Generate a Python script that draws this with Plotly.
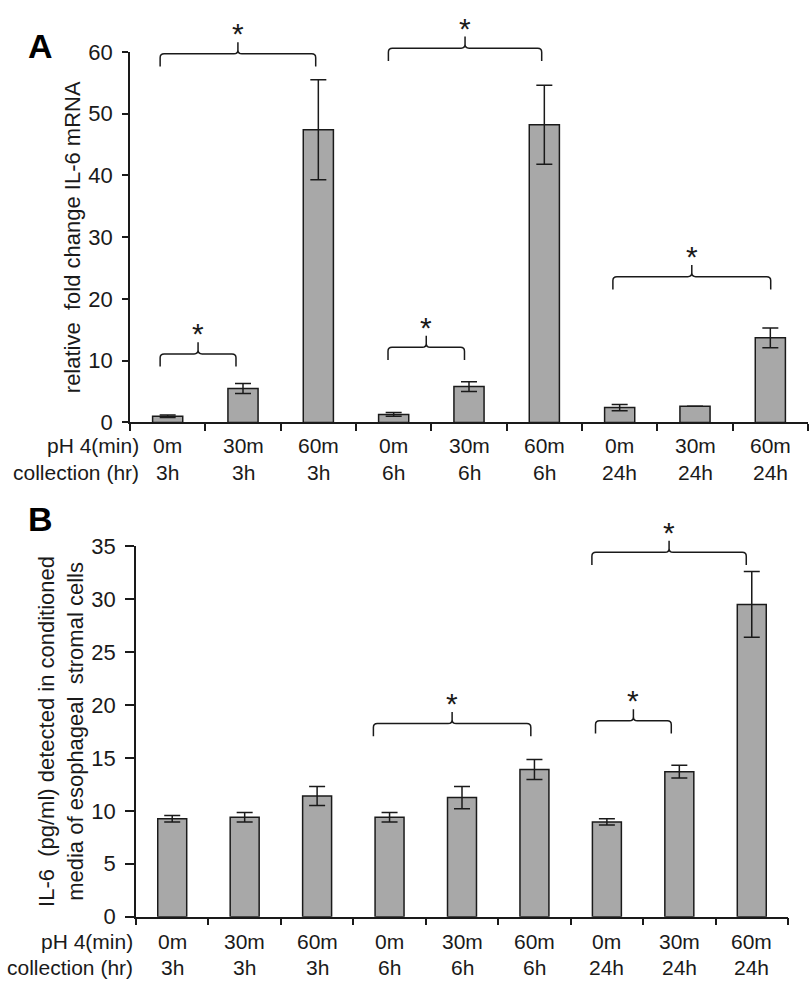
import plotly.graph_objects as go

# ---------------- data ----------------
ph_labels = ["0m", "30m", "60m", "0m", "30m", "60m", "0m", "30m", "60m"]
collection_labels = ["3h", "3h", "3h", "6h", "6h", "6h", "24h", "24h", "24h"]
row_header_1 = "pH 4(min)"
row_header_2 = "collection (hr)"

mrna_values = [1.0, 5.5, 47.4, 1.3, 5.8, 48.2, 2.4, 2.6, 13.7]
mrna_errors = [0.2, 0.8, 8.1, 0.3, 0.8, 6.4, 0.5, 0.0, 1.6]

protein_values = [9.25, 9.4, 11.4, 9.4, 11.25, 13.9, 8.95, 13.7, 29.5]
protein_errors = [0.3, 0.45, 0.9, 0.45, 1.05, 0.95, 0.3, 0.6, 3.1]

# significance brackets: (left index, right index, height in data units)
brackets_A = [(-0.10, 1.965, 59.7), (-0.10, 0.907, 11.1), (2.93, 4.965, 60.6),
              (2.925, 3.94, 12.16), (5.91, 8.005, 23.6)]
brackets_B = [(2.777, 4.95, 18.24), (5.843, 6.889, 18.5), (5.793, 7.924, 34.42)]

title_A = "relative  fold change IL-6 mRNA"
title_B = "IL-6  (pg/ml) detected in conditioned<br>media of esophageal  stromal cells"

# ---------------- layout geometry (px) ----------------
W, H = 812, 994
FONT = "Liberation Sans, Arial, sans-serif"
BAR_COLOR = "#a8a8a8"
INK = "#1a1a1a"
TXT = 21

panels = {
    "A": dict(x0=130, x1=808, ytop=41, ybot=421, ymax=60, dtick=10, ticklen=6,
              row1=445, row2=472, hdr_x=141),
    "B": dict(x0=136, x1=788, ytop=548, ybot=928, ymax=35, dtick=5, ticklen=9,
              row1=953, row2=980, hdr_x=135),
}
N = len(ph_labels)


def px_x(p, idx):
    g = panels[p]
    return g["x0"] + (idx + 0.5) * (g["x1"] - g["x0"]) / N


def px_y(p, val):
    g = panels[p]
    return g["ybot"] - val / g["ymax"] * (g["ybot"] - g["ytop"])


def to_paper(px, py):
    return px / W, 1 - py / H


fig = go.Figure()

x_idx = list(range(N))
for p, vals, errs, xa, ya in [("A", mrna_values, mrna_errors, "x", "y"),
                              ("B", protein_values, protein_errors, "x2", "y2")]:
    fig.add_trace(go.Bar(
        x=x_idx, y=vals, xaxis=xa, yaxis=ya, width=0.4,
        marker=dict(color=BAR_COLOR, line=dict(color=INK, width=1.5)),
        error_y=dict(type="data", array=errs, visible=True, color=INK,
                     thickness=1.5, width=8),
        showlegend=False, hoverinfo="skip",
    ))

shapes = []
annotations = []


def brace(p, left, right, val, leg=13, tip=12, r=4):
    xl, xr = px_x(p, left), px_x(p, right)
    xc = (xl + xr) / 2
    yl = px_y(p, val)

    def P(x, y):
        a, b = to_paper(x, y)
        return f"{a:.5f},{b:.5f}"

    path = (f"M {P(xl, yl + leg)} L {P(xl, yl + r)} Q {P(xl, yl)} {P(xl + r, yl)} "
            f"L {P(xc - r, yl)} Q {P(xc, yl)} {P(xc, yl - r)} L {P(xc, yl - tip)} "
            f"M {P(xc, yl - r)} Q {P(xc, yl)} {P(xc + r, yl)} "
            f"L {P(xr - r, yl)} Q {P(xr, yl)} {P(xr, yl + r)} L {P(xr, yl + leg)}")
    shapes.append(dict(type="path", path=path, xref="paper", yref="paper",
                       line=dict(color=INK, width=1.5)))
    ax_, ay_ = to_paper(xc, yl - tip - 2)
    annotations.append(dict(text="*", x=ax_, y=ay_, xref="paper", yref="paper",
                            xanchor="center", yanchor="bottom", showarrow=False,
                            font=dict(family=FONT, size=30, color=INK), yshift=-12))


for b in brackets_A:
    brace("A", *b)
for b in brackets_B:
    brace("B", *b)

# category labels + row headers
for p, xa in [("A", "x"), ("B", "x2")]:
    g = panels[p]
    for i in range(N):
        for text, row in [(ph_labels[i], g["row1"]), (collection_labels[i], g["row2"])]:
            annotations.append(dict(text=text, x=i, xref=xa, y=1 - row / H, yref="paper",
                                    xanchor="center", yanchor="middle", showarrow=False,
                                    font=dict(family=FONT, size=TXT, color=INK)))
    for text, row in [(row_header_1, g["row1"]), (row_header_2, g["row2"])]:
        annotations.append(dict(text=text, x=g["hdr_x"] / W, xref="paper", y=1 - row / H,
                                yref="paper", xanchor="right", yanchor="middle",
                                showarrow=False, font=dict(family=FONT, size=TXT, color=INK)))

# y-axis titles
annotations.append(dict(text=title_A, x=72 / W, y=1 - 231 / H, xref="paper", yref="paper",
                        textangle=-90, showarrow=False, xanchor="center", yanchor="middle",
                        font=dict(family=FONT, size=22, color=INK)))
annotations.append(dict(text=title_B, x=61.5 / W, y=1 - 738 / H, xref="paper", yref="paper",
                        textangle=-90, showarrow=False, xanchor="center", yanchor="middle",
                        font=dict(family=FONT, size=22, color=INK)))

# panel letters
for letter, cy in [("A", 35), ("B", 520)]:
    annotations.append(dict(text=f"<b>{letter}</b>", x=40 / W, y=1 - cy / H, xref="paper",
                            yref="paper", xanchor="center", yanchor="middle", showarrow=False,
                            font=dict(family=FONT, size=34, color="#000")))


def xaxis_cfg(p):
    g = panels[p]
    return dict(domain=[g["x0"] / W, g["x1"] / W], range=[-0.5, N - 0.5],
                showline=True, linecolor=INK, linewidth=1.5, showgrid=False,
                zeroline=False, tickvals=[], showticklabels=False, ticks="",
                minor=dict(tickvals=[i - 0.5 for i in range(N + 1)], ticks="outside",
                           ticklen=7, tickcolor=INK, tickwidth=1.5, showgrid=False),
                fixedrange=True)


def yaxis_cfg(p, xa):
    g = panels[p]
    return dict(domain=[1 - g["ybot"] / H, 1 - g["ytop"] / H], range=[0, g["ymax"]],
                dtick=g["dtick"], tick0=0, showline=True, linecolor=INK, linewidth=1.5,
                showgrid=False, zeroline=False, ticks="outside", ticklen=g["ticklen"],
                tickcolor=INK, tickwidth=1.5, anchor=xa,
                tickfont=dict(family=FONT, size=22, color=INK), ticklabelstandoff=5,
                fixedrange=True)


fig.update_layout(
    width=W, height=H, margin=dict(l=0, r=0, t=0, b=0),
    paper_bgcolor="white", plot_bgcolor="white",
    xaxis=dict(**xaxis_cfg("A"), anchor="y"),
    yaxis=yaxis_cfg("A", "x"),
    xaxis2=dict(**xaxis_cfg("B"), anchor="y2"),
    yaxis2=yaxis_cfg("B", "x2"),
    bargap=0.6, shapes=shapes, annotations=annotations,
    font=dict(family=FONT, color=INK),
)

fig.write_html("out.html", config={"displayModeBar": False},
               post_script="document.body.style.margin='0px';")
